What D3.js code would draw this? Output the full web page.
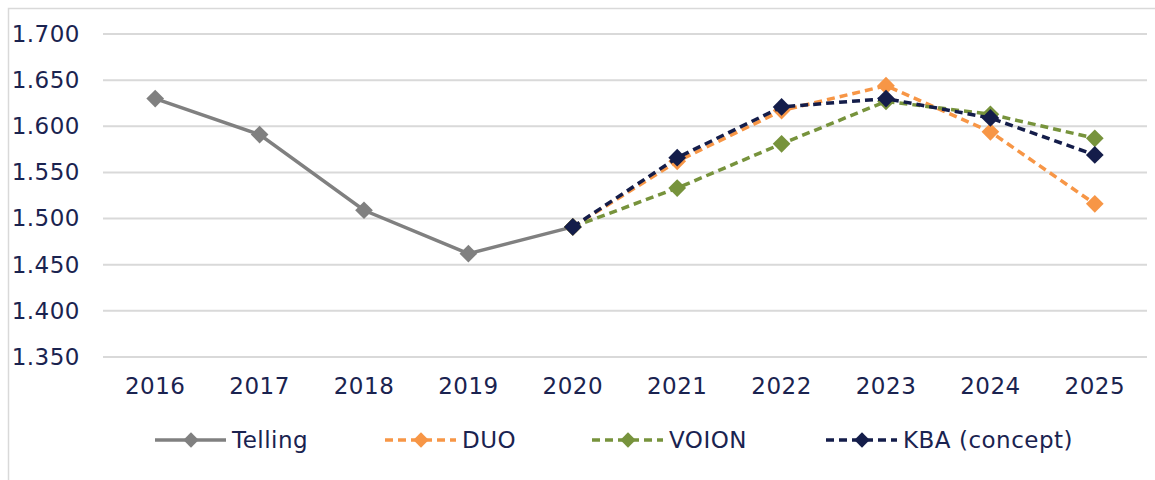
<!DOCTYPE html>
<html>
<head>
<meta charset="utf-8">
<script src="https://cdn.jsdelivr.net/npm/d3@7"></script>
<style>
  body { margin: 0; background: #fff; }
  svg { font-family: Verdana, "DejaVu Sans", sans-serif; }
</style>
</head>
<body>
<svg id="chart" width="1155" height="480"></svg>
<script>
// jaren en waarden (x 1000)
const years = ["2016", "2017", "2018", "2019", "2020", "2021", "2022", "2023", "2024", "2025"];
const telling = [1630, 1591, 1509, 1462, 1491, null, null, null, null, null];
const duo = [null, null, null, null, 1491, 1562, 1617, 1644, 1594, 1516];
const voion = [null, null, null, null, 1491, 1533, 1581, 1627, 1613, 1587];
const kba = [null, null, null, null, 1491, 1566, 1621, 1630, 1609, 1569];
const yTicks = [1350, 1400, 1450, 1500, 1550, 1600, 1650, 1700];
const seriesNames = ["Telling", "DUO", "VOION", "KBA (concept)"];

const series = [
  { name: seriesNames[0], values: telling, color: "#808080", dash: null },
  { name: seriesNames[1], values: duo, color: "#f79646", dash: "8,5" },
  { name: seriesNames[2], values: voion, color: "#77933c", dash: "8,5" },
  { name: seriesNames[3], values: kba, color: "#141d4a", dash: "8,5" }
];

const svg = d3.select("#chart");
const textColor = "#1a2350";
const fontSize = "23px";
const nl = d3.formatLocale({ decimal: ",", thousands: ".", grouping: [3], currency: ["€", ""] });
const fmt = nl.format(",d");

// rand om de grafiek
svg.append("rect")
  .attr("x", 8.5).attr("y", 8.5)
  .attr("width", 1160).attr("height", 480)
  .attr("fill", "none").attr("stroke", "#d9d9d9").attr("stroke-width", 1.5);

const x = d3.scaleBand().domain(years).range([103, 1147]);
const y = d3.scaleLinear().domain([1350, 1700]).range([357, 34]);

// gridlijnen
svg.append("g")
  .selectAll("line")
  .data(yTicks)
  .join("line")
  .attr("x1", 103).attr("x2", 1147)
  .attr("y1", d => y(d)).attr("y2", d => y(d))
  .attr("stroke", "#d9d9d9").attr("stroke-width", 2);

// y-as labels
const yAxis = svg.append("g")
  .attr("transform", "translate(80,0)")
  .call(d3.axisLeft(y).tickValues(yTicks).tickFormat(fmt).tickSize(0).tickPadding(0));
yAxis.select(".domain").remove();
yAxis.selectAll("text")
  .attr("fill", textColor).attr("font-size", fontSize)
  .attr("letter-spacing", "0.5px")
  .attr("font-family", "Verdana, 'DejaVu Sans', sans-serif");

// x-as labels
const xAxis = svg.append("g")
  .attr("transform", "translate(0,372)")
  .call(d3.axisBottom(x).tickSize(0).tickPadding(6));
xAxis.select(".domain").remove();
xAxis.selectAll("text")
  .attr("fill", textColor).attr("font-size", fontSize)
  .attr("letter-spacing", "0.5px")
  .attr("font-family", "Verdana, 'DejaVu Sans', sans-serif");

const diamond = d3.symbol().type(d3.symbolDiamond2).size(200);

const line = d3.line()
  .defined(d => d.v != null)
  .x(d => x(d.year) + x.bandwidth() / 2)
  .y(d => y(d.v));

series.forEach(s => {
  const pts = years.map((yr, i) => ({ year: yr, v: s.values[i] }));
  svg.append("path")
    .datum(pts)
    .attr("d", line)
    .attr("fill", "none")
    .attr("stroke", s.color)
    .attr("stroke-width", 3.5)
    .attr("stroke-dasharray", s.dash);
  svg.append("g")
    .selectAll("path")
    .data(pts.filter(d => d.v != null))
    .join("path")
    .attr("d", diamond)
    .attr("transform", d => `translate(${x(d.year) + x.bandwidth() / 2},${y(d.v)})`)
    .attr("fill", s.color);
});

// legenda
const legendX = [155, 385, 592, 826];
const legend = svg.append("g")
  .selectAll("g")
  .data(series)
  .join("g")
  .attr("transform", (d, i) => `translate(${legendX[i]},440)`);
legend.append("line")
  .attr("x1", 0).attr("x2", 71)
  .attr("stroke", d => d.color).attr("stroke-width", 3.5)
  .attr("stroke-dasharray", d => d.dash);
legend.append("path")
  .attr("d", d3.symbol().type(d3.symbolDiamond2).size(150))
  .attr("transform", "translate(36,0)")
  .attr("fill", d => d.color);
legend.append("text")
  .attr("x", 77).attr("dy", "0.35em")
  .attr("fill", textColor).attr("font-size", fontSize)
  .attr("letter-spacing", "0.5px")
  .text(d => d.name);
</script>
</body>
</html>
